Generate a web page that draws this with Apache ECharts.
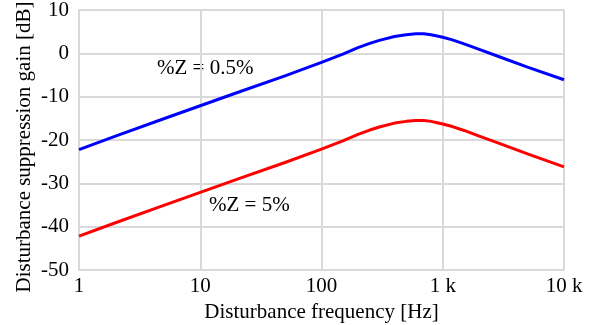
<!DOCTYPE html>
<html>
<head>
<meta charset="utf-8">
<script src="https://cdn.jsdelivr.net/npm/echarts@6/dist/echarts.min.js"></script>
<style>
  html, body { margin: 0; padding: 0; background: #fff; }
  #chart { width: 604px; height: 325px; }
</style>
</head>
<body>
<div id="chart"></div>
<script>
// Disturbance suppression gain vs. frequency for two impedance settings
const frequencies = [1, 2, 5, 10, 20, 50, 100, 150, 200, 250, 300, 400, 500, 600, 700, 800, 900, 1000, 1200, 1500, 2000, 3000, 5000, 10000];
const gainZ05 = [-22.2, -19.1, -15.1, -12.1, -9.1, -5.2, -2.1, -0.2, 1.3, 2.3, 3.0, 3.9, 4.3, 4.5, 4.5, 4.3, 4.0, 3.7, 3.1, 2.2, 0.9, -0.9, -3.2, -6.1];
const gainZ5  = [-42.2, -39.1, -35.1, -32.1, -29.1, -25.2, -22.1, -20.2, -18.7, -17.7, -17.0, -16.1, -15.7, -15.5, -15.5, -15.7, -16.0, -16.3, -16.9, -17.8, -19.1, -20.9, -23.2, -26.2];
const xTickLabels = { 1: '1', 10: '10', 100: '100', 1000: '1 k', 10000: '10 k' };
const seriesNames = ['%Z = 0.5%', '%Z = 5%'];
const yTitle = 'Disturbance suppression gain [dB]';

const font = 'Liberation Serif, Times New Roman, serif';
const gridColor = '#d9d9d9';

const chart = echarts.init(document.getElementById('chart'), null, { renderer: 'canvas' });

const pairs = (xs, ys) => xs.map((x, i) => [x, ys[i]]);

chart.setOption({
  animation: false,
  grid: { left: 79, right: 40, top: 10, bottom: 55, containLabel: false, outerBoundsMode: 'none' },
  xAxis: {
    type: 'log',
    logBase: 10,
    min: 1,
    max: 10000,
    name: 'Disturbance frequency [Hz]',
    nameLocation: 'middle',
    nameGap: 25,
    nameTextStyle: { fontFamily: font, fontSize: 21, color: '#000' },
    axisLine: { show: true, lineStyle: { color: gridColor, width: 2 } },
    axisTick: { show: false },
    minorTick: { show: false },
    splitLine: { show: true, lineStyle: { color: gridColor, width: 2 } },
    axisLabel: {
      fontFamily: font, fontSize: 21, color: '#000', margin: 6,
      formatter: v => xTickLabels[Math.round(v)] || ''
    }
  },
  yAxis: {
    type: 'value',
    min: -50,
    max: 10,
    interval: 10,
    axisLine: { show: true, lineStyle: { color: gridColor, width: 2 } },
    axisTick: { show: false },
    splitLine: { show: true, lineStyle: { color: gridColor, width: 2 } },
    axisLabel: { fontFamily: font, fontSize: 21, color: '#000', margin: 10 }
  },
  series: [
    {
      name: seriesNames[0],
      type: 'line',
      data: pairs(frequencies, gainZ05),
      smooth: false,
      showSymbol: false,
      lineStyle: { color: '#0000ff', width: 3, join: 'round' },
      z: 3
    },
    {
      name: seriesNames[1],
      type: 'line',
      data: pairs(frequencies, gainZ5),
      smooth: false,
      showSymbol: false,
      lineStyle: { color: '#ff0000', width: 3, join: 'round' },
      z: 3
    }
  ],
  graphic: [
    {
      type: 'text', x: 24, y: 147, rotation: Math.PI / 2,
      style: {
        text: yTitle, fontFamily: font, fontSize: 21, fill: '#000',
        align: 'center', verticalAlign: 'middle'
      }
    },
    {
      type: 'text', left: 157, top: 58,
      style: { text: seriesNames[0], fontFamily: font, fontSize: 21, fill: '#000' }
    },
    {
      type: 'text', left: 209, top: 195,
      style: { text: seriesNames[1], fontFamily: font, fontSize: 21, fill: '#000' }
    }
  ]
});
</script>
</body>
</html>
